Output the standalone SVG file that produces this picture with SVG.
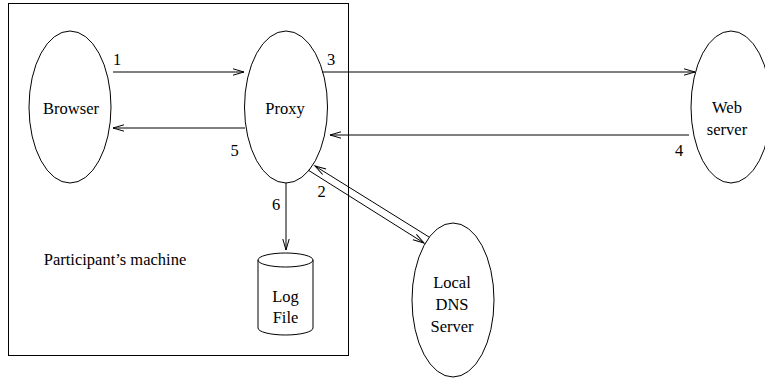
<svg xmlns="http://www.w3.org/2000/svg" width="765" height="378" viewBox="0 0 765 378">
<defs>
<marker id="arr" markerUnits="userSpaceOnUse" markerWidth="14" markerHeight="10" viewBox="-12 -5 14 10" refX="0" refY="0" orient="auto" overflow="visible">
<path d="M-11,-3.2 L0,0 L-11,3.2" fill="none" stroke="#000" stroke-width="1"/>
</marker>
</defs>
<style>
.sh{fill:none;stroke:#000;stroke-width:1}
.t{font-family:"Liberation Serif","Times New Roman",serif;font-size:16.5px;fill:#000;text-anchor:middle}
.c{fill:none;stroke:#000;stroke-width:1;marker-end:url(#arr)}
</style>
<rect width="765" height="378" fill="#fff"/>
<g id="machine">
<rect class="sh" x="8.5" y="3.5" width="340" height="352"/>
<text class="t" x="115" y="265">Participant’s machine</text>
</g>
<g id="browser">
<ellipse class="sh" cx="70" cy="107" rx="41" ry="76"/>
<text class="t" x="71" y="114">Browser</text>
</g>
<g id="proxy">
<ellipse class="sh" cx="286" cy="107" rx="41.5" ry="76"/>
<text class="t" x="285" y="114">Proxy</text>
</g>
<g id="webserver">
<ellipse class="sh" cx="731" cy="107" rx="40" ry="76"/>
<text class="t" x="727" y="113">Web</text>
<text class="t" x="727" y="135">server</text>
</g>
<g id="dns">
<ellipse class="sh" cx="453" cy="300" rx="41" ry="77"/>
<text class="t" x="452" y="288">Local</text>
<text class="t" x="452" y="310">DNS</text>
<text class="t" x="452" y="332">Server</text>
</g>
<g id="logfile">
<path class="sh" d="M258,260 L258,328 A27.5,7 0 0 0 313,328 L313,260"/>
<ellipse class="sh" cx="285.5" cy="260" rx="27.5" ry="7"/>
<text class="t" x="285.5" y="302">Log</text>
<text class="t" x="285.5" y="323">File</text>
</g>
<g id="connectors">
<line class="c" x1="113" y1="72" x2="244" y2="72"/>
<line class="c" x1="245" y1="128" x2="113" y2="128"/>
<line class="c" x1="322" y1="72" x2="695" y2="72"/>
<line class="c" x1="689" y1="135" x2="330" y2="135"/>
<line class="c" x1="286" y1="183" x2="286" y2="250"/>
<line class="c" x1="429" y1="237" x2="315" y2="166"/>
<line class="c" x1="308" y1="170" x2="424" y2="243"/>
<text class="t" x="117" y="65">1</text>
<text class="t" x="321.5" y="197">2</text>
<text class="t" x="331" y="65">3</text>
<text class="t" x="679" y="156">4</text>
<text class="t" x="234.5" y="156">5</text>
<text class="t" x="276" y="210">6</text>
</g>
</svg>
